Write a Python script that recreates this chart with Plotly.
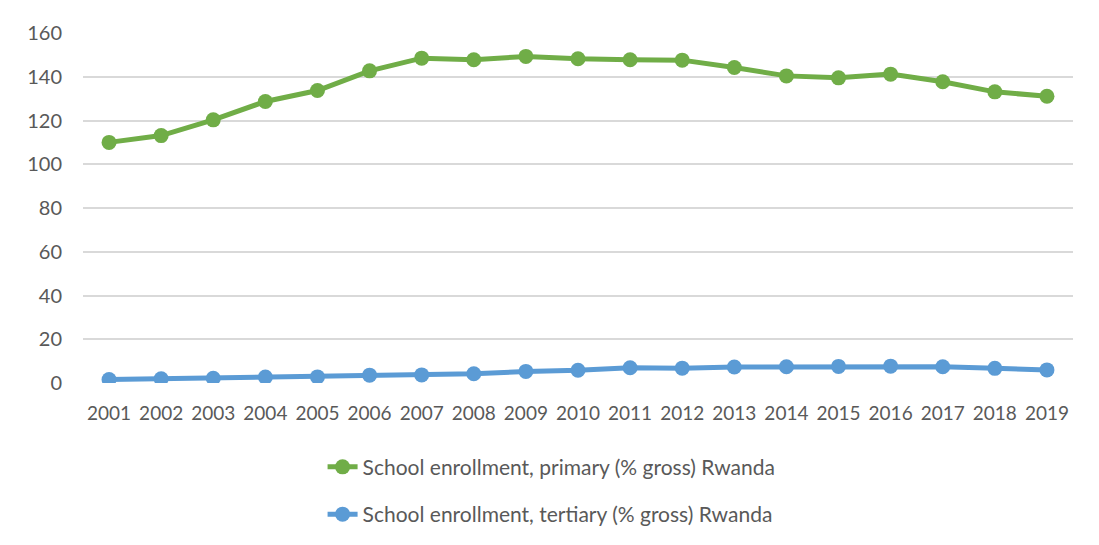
import plotly.graph_objects as go

years = [2001, 2002, 2003, 2004, 2005, 2006, 2007, 2008, 2009, 2010,
         2011, 2012, 2013, 2014, 2015, 2016, 2017, 2018, 2019]
primary = [110.0, 113.1, 120.3, 128.7, 133.7, 142.7, 148.5, 147.8, 149.3, 148.2,
           147.8, 147.6, 144.2, 140.4, 139.5, 141.2, 137.7, 133.1, 131.1]
tertiary = [1.6, 1.9, 2.2, 2.7, 2.8, 3.6, 3.7, 4.2, 5.3, 5.8,
            7.0, 6.8, 7.3, 7.4, 7.6, 7.7, 7.4, 6.7, 6.0]
y_ticks = [0, 20, 40, 60, 80, 100, 120, 140, 160]
name_primary = "School enrollment, primary (% gross) Rwanda"
name_tertiary = "School enrollment, tertiary (% gross) Rwanda"

GREEN = "#70AD47"
BLUE = "#5B9BD5"
TXT = "#595959"
FONT = "Lato"

fig = go.Figure()
fig.add_trace(go.Scatter(x=years, y=primary, name=name_primary, mode="lines+markers",
                         line=dict(color=GREEN, width=5), marker=dict(color=GREEN, size=15),
                         legendgroup="a"))
fig.add_trace(go.Scatter(x=years, y=tertiary, name=name_tertiary, mode="lines+markers",
                         line=dict(color=BLUE, width=5), marker=dict(color=BLUE, size=15),
                         legendgroup="b"))

# page body has an 8px margin; size the figure so the page does not overflow
fig.update_layout(
    width=1083, height=529,
    margin=dict(l=75, r=18, t=25, b=154, autoexpand=False),
    paper_bgcolor="white", plot_bgcolor="white",
    font=dict(family=FONT, size=19, color=TXT),
    xaxis=dict(tickmode="array", tickvals=years, ticktext=[str(y) for y in years],
               range=[2000.5, 2019.5], showgrid=False, zeroline=False, showline=False,
               ticks="", ticklabelstandoff=17, tickfont=dict(size=19, color=TXT)),
    yaxis=dict(tickmode="array", tickvals=y_ticks, range=[0, 160],
               showgrid=True, gridcolor="#D9D9D9", gridwidth=1.5, zeroline=False,
               showline=False, ticks="", ticklabelstandoff=20,
               tickfont=dict(size=20, color=TXT)),
    legend=dict(orientation="v", x=0.242, y=-0.182, xanchor="left", yanchor="top",
                traceorder="grouped", tracegroupgap=17,
                font=dict(size=21, color=TXT), bgcolor="rgba(0,0,0,0)"),
    showlegend=True,
)

fig.add_shape(type="rect", xref="paper", yref="paper",
              x0=-0.0778, x1=1.2, y0=-0.8, y1=1.081,
              line=dict(color="#D9D9D9", width=1.5), fillcolor="rgba(0,0,0,0)", layer="below")

fig.write_html("out.html")
